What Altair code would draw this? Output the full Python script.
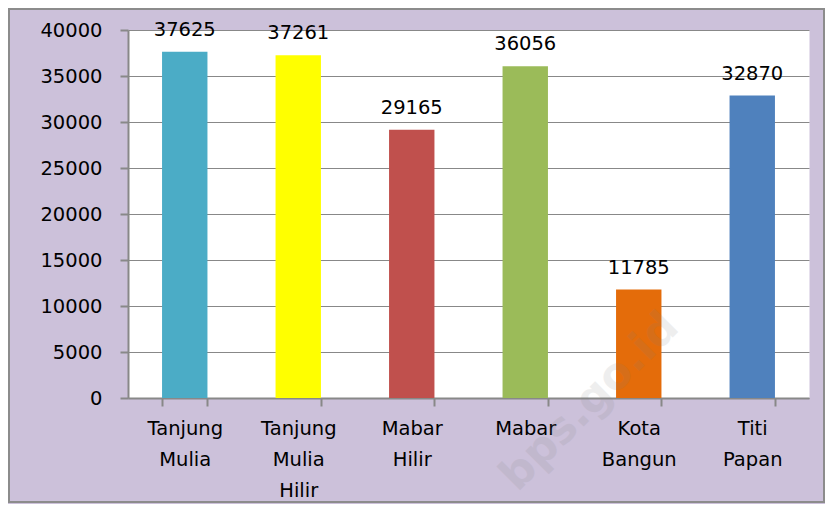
import altair as alt
import pandas as pd

villages = ["Tanjung Mulia", "Tanjung Mulia Hilir", "Mabar Hilir", "Mabar", "Kota Bangun", "Titi Papan"]
values = [37625, 37261, 29165, 36056, 11785, 32870]
colors = ["#4BACC6", "#FFFF00", "#C0504D", "#9BBB59", "#E46C0A", "#4F81BD"]
y_ticks = [0, 5000, 10000, 15000, 20000, 25000, 30000, 35000, 40000]

df = pd.DataFrame({"village": villages, "value": values})

FONT = "DejaVu Sans"
FS = 19.5
W, H = 681, 368

x_enc = alt.X(
    "village:N",
    sort=villages,
    scale=alt.Scale(paddingInner=0.6, paddingOuter=0.3),
    axis=alt.Axis(
        title=None, labelAngle=0, labelExpr="split(datum.label, ' ')",
        labelFont=FONT, labelFontSize=FS, labelLineHeight=31, labelPadding=13,
        labelColor="black", tickBand="extent", tickSize=8, tickColor="#888888",
        tickWidth=2, domainColor="#888888", domainWidth=2, grid=False,
    ),
)
y_enc = alt.Y(
    "value:Q",
    scale=alt.Scale(domain=[0, 40000], nice=False),
    axis=alt.Axis(
        title=None, values=y_ticks, format="d", labelFont=FONT, labelFontSize=FS,
        labelColor="black", labelPadding=18, tickSize=8, tickColor="#888888",
        tickWidth=2, domainColor="#888888", domainWidth=2,
        gridColor="#888888", gridWidth=1,
    ),
)

base = alt.Chart(df)

bars = base.mark_bar().encode(
    x=x_enc,
    y=y_enc,
    color=alt.Color("village:N", sort=villages,
                    scale=alt.Scale(domain=villages, range=colors), legend=None),
)

labels = base.mark_text(baseline="bottom", dy=-12, font=FONT, fontSize=FS, color="black").encode(
    x=alt.X("village:N", sort=villages),
    y="value:Q",
    text="value:Q",
)

one = alt.Chart(pd.DataFrame({"a": [0]}))

watermark = one.mark_text(
    text="bps.go.id", font=FONT, fontSize=44, fontWeight="bold", angle=315,
    color="#7f7f7f", opacity=0.13,
).encode(x=alt.value(462), y=alt.value(372))

border = one.mark_rect(fillOpacity=0, stroke="#8C8C8C", strokeWidth=2).encode(
    x=alt.value(-119), x2=alt.value(W + 15), y=alt.value(-21), y2=alt.value(H + 104)
)

chart = alt.layer(bars, labels, watermark, border).properties(
    width=W, height=H,
    padding={"left": 120, "top": 22, "right": 16, "bottom": 106},
    autosize=alt.AutoSizeParams(type="none"),
    background="#CCC1DA",
).configure_view(fill="white", stroke="transparent")

chart.save("out.html", embed_options={"renderer": "svg", "actions": False})
